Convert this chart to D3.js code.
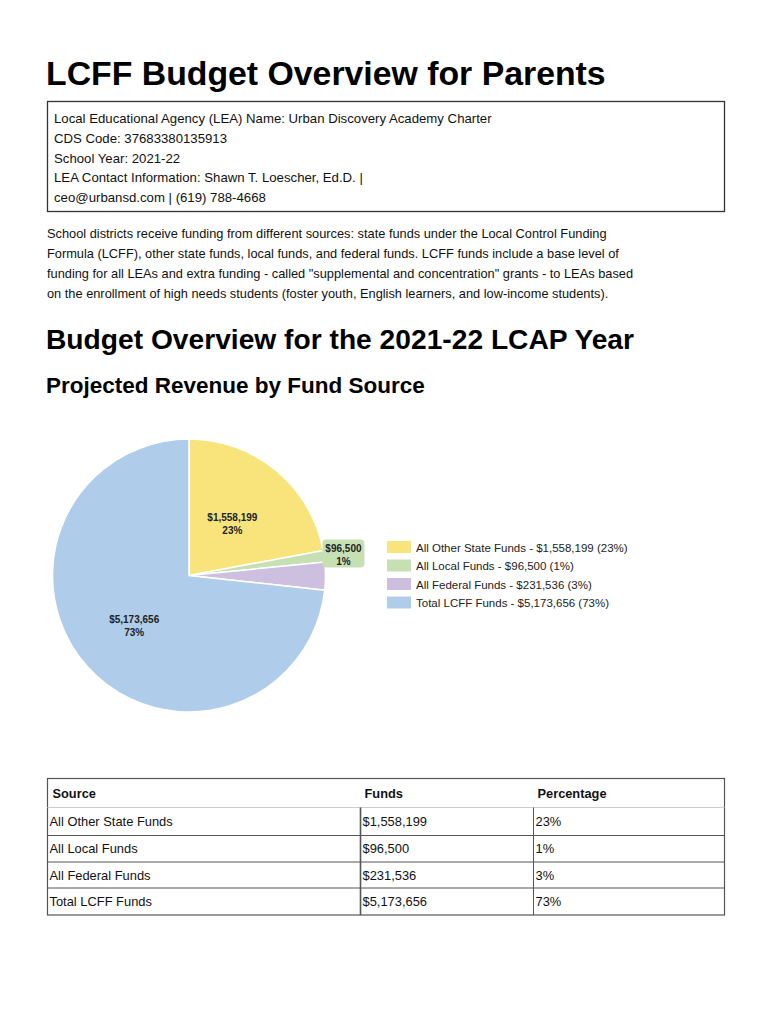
<!DOCTYPE html>
<html>
<head>
<meta charset="utf-8">
<script src="https://cdn.jsdelivr.net/npm/d3@7"></script>
<style>
  html, body { margin: 0; padding: 0; background: #fff; }
  svg { display: block; }
  text { font-family: "Liberation Sans", Arial, sans-serif; }
</style>
</head>
<body>
<svg id="chart" width="770" height="1024"></svg>
<script>
// ---- Data ----
const categories = ["All Other State Funds", "All Local Funds", "All Federal Funds", "Total LCFF Funds"];
const values = [1558199, 96500, 231536, 5173656];
const percentLabels = ["23%", "1%", "3%", "73%"];
const colors = ["#f9e47c", "#c6e0b4", "#cdbfe0", "#afcdea"];
const tableHeaders = ["Source", "Funds", "Percentage"];
const infoLines = [
  "Local Educational Agency (LEA) Name: Urban Discovery Academy Charter",
  "CDS Code: 37683380135913",
  "School Year: 2021-22",
  "LEA Contact Information: Shawn T. Loescher, Ed.D. |",
  "ceo@urbansd.com | (619) 788-4668"
];
const paragraphLines = [
  "School districts receive funding from different sources: state funds under the Local Control Funding",
  "Formula (LCFF), other state funds, local funds, and federal funds. LCFF funds include a base level of",
  "funding for all LEAs and extra funding - called \"supplemental and concentration\" grants - to LEAs based",
  "on the enrollment of high needs students (foster youth, English learners, and low-income students)."
];

const fmt = d3.format("$,");
const svg = d3.select("#chart");

// ---- Headings ----
svg.append("text").attr("x", 46).attr("y", 85)
  .attr("font-size", 33.8).attr("font-weight", "bold").attr("fill", "#000")
  .text("LCFF Budget Overview for Parents");

svg.append("rect").attr("x", 47.5).attr("y", 101.5).attr("width", 677).attr("height", 110)
  .attr("fill", "none").attr("stroke", "#333").attr("stroke-width", 1.3);

svg.append("g").selectAll("text").data(infoLines).join("text")
  .attr("x", 54).attr("y", (d, i) => 123 + i * 19.8)
  .attr("font-size", 13.2).attr("fill", "#111").text(d => d);

svg.append("g").selectAll("text").data(paragraphLines).join("text")
  .attr("x", 47).attr("y", (d, i) => 238 + i * 20)
  .attr("font-size", 12.8).attr("fill", "#111").text(d => d);

svg.append("text").attr("x", 46).attr("y", 349)
  .attr("font-size", 28.2).attr("font-weight", "bold").attr("fill", "#000")
  .text("Budget Overview for the 2021-22 LCAP Year");

svg.append("text").attr("x", 46).attr("y", 393)
  .attr("font-size", 22.5).attr("font-weight", "bold").attr("fill", "#000")
  .text("Projected Revenue by Fund Source");

// ---- Pie ----
const cx = 189, cy = 575.5, R = 136.5;
const data = categories.map((c, i) => ({ cat: c, value: values[i], pct: percentLabels[i], color: colors[i] }));
const pie = d3.pie().sort(null).value(d => d.value);
const arcs = pie(data);
const arc = d3.arc().innerRadius(0).outerRadius(R);
const labelArc = d3.arc().innerRadius(R * 0.52).outerRadius(R * 0.52);
const outArc = d3.arc().innerRadius(156).outerRadius(156);

const g = svg.append("g").attr("transform", `translate(${cx},${cy})`);
g.selectAll("path").data(arcs).join("path")
  .attr("d", arc).attr("fill", d => d.data.color)
  .attr("stroke", "#fff").attr("stroke-width", 1.5);

arcs.forEach(a => {
  const span = a.endAngle - a.startAngle;
  if (span > 0.5) {
    const [x, y] = labelArc.centroid(a);
    const t = g.append("text").attr("text-anchor", "middle")
      .attr("font-size", 10).attr("font-weight", "bold").attr("fill", "#222");
    t.append("tspan").attr("x", x - 2).attr("y", y).text(fmt(a.data.value));
    t.append("tspan").attr("x", x - 2).attr("y", y + 13).text(a.data.pct);
  } else if (a.data.cat === "All Local Funds") {
    const [x, y] = outArc.centroid(a);
    g.append("rect").attr("x", x - 21).attr("y", y - 14).attr("width", 42).attr("height", 28)
      .attr("rx", 4).attr("fill", a.data.color);
    const t = g.append("text").attr("text-anchor", "middle")
      .attr("font-size", 10).attr("font-weight", "bold").attr("fill", "#222");
    t.append("tspan").attr("x", x).attr("y", y - 2).text(fmt(a.data.value));
    t.append("tspan").attr("x", x).attr("y", y + 11).text(a.data.pct);
  }
});

// ---- Legend ----
const leg = svg.append("g").attr("transform", "translate(387,541)");
const rows = leg.selectAll("g").data(data).join("g")
  .attr("transform", (d, i) => `translate(0,${i * 18.5})`);
rows.append("rect").attr("width", 24).attr("height", 12).attr("fill", d => d.color);
rows.append("text").attr("x", 29).attr("y", 10.5).attr("font-size", 11.5).attr("fill", "#222")
  .text(d => `${d.cat} - ${fmt(d.value)} (${d.pct})`);

// ---- Table ----
const tx0 = 47.5, tx1 = 724.5;
const colX = [47.5, 360.5, 533.5];
const rowY = [778.5, 807.5, 835.5, 862, 888, 915];
const tbl = svg.append("g");
tbl.append("rect").attr("x", tx0).attr("y", rowY[0]).attr("width", tx1 - tx0).attr("height", rowY[5] - rowY[0])
  .attr("fill", "none").attr("stroke", "#555").attr("stroke-width", 1.2);
tbl.append("line").attr("x1", tx0).attr("x2", tx1).attr("y1", rowY[1]).attr("y2", rowY[1])
  .attr("stroke", "#ccc").attr("stroke-width", 1);
tbl.selectAll("line.r").data(rowY.slice(2, 5)).join("line").attr("class", "r")
  .attr("x1", tx0).attr("x2", tx1).attr("y1", d => d).attr("y2", d => d)
  .attr("stroke", "#555").attr("stroke-width", 1);
tbl.selectAll("line.c").data(colX.slice(1)).join("line").attr("class", "c")
  .attr("x1", d => d).attr("x2", d => d).attr("y1", rowY[1]).attr("y2", rowY[5])
  .attr("stroke", "#555").attr("stroke-width", (d, i) => i === 0 ? 1.6 : 1);

tbl.selectAll("text.h").data(tableHeaders).join("text").attr("class", "h")
  .attr("x", (d, i) => colX[i] + (i === 0 ? 5 : 4)).attr("y", 798)
  .attr("font-size", 12.8).attr("font-weight", "bold").attr("fill", "#111").text(d => d);

data.forEach((d, i) => {
  const y = (rowY[i + 1] + rowY[i + 2]) / 2 + 4.5;
  const cells = [d.cat, fmt(d.value), d.pct];
  cells.forEach((c, j) => {
    tbl.append("text").attr("x", colX[j] + 2).attr("y", y)
      .attr("font-size", 12.9).attr("fill", "#111").text(c);
  });
});
</script>
</body>
</html>
